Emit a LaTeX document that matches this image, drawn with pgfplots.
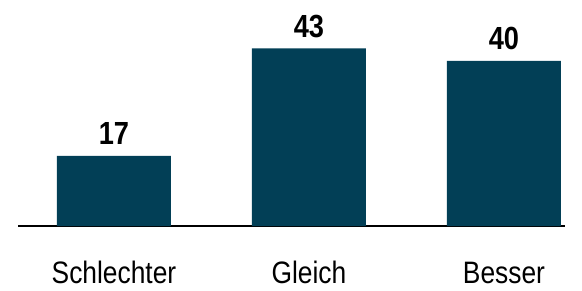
\documentclass[border=0pt]{standalone}
\usepackage{pgfplots}
\pgfplotsset{compat=1.18}
\usepackage{fontspec}
\setmainfont{Liberation Sans}
\newfontfamily\numfont[FakeStretch=0.85]{Liberation Sans Bold}
\newfontfamily\catfont[FakeStretch=0.85]{Liberation Sans}
\definecolor{barc}{RGB}{2,63,86}
\begin{document}
\begin{tikzpicture}
\useasboundingbox (0,0) rectangle (582bp,291bp);
\begin{axis}[
  at={(18bp,65bp)}, anchor=south west,
  scale only axis, width=547bp, height=206.5bp,
  xmin=-0.492, xmax=2.313, ymin=0, ymax=50,
  axis x line*=bottom, axis y line=none,
  axis line style={line width=1.5bp,-},
  xtick={0,1,2}, xticklabels={Schlechter,Gleich,Besser},
  major tick length=0pt,
  xticklabel style={font=\catfont\fontsize{31bp}{33bp}\selectfont, anchor=base, inner sep=0pt, yshift=-57bp},
  ybar, bar width=114bp,
  nodes near coords,
  /pgf/number format/assume math mode=true,
  every node near coord/.append style={font=\numfont\fontsize{32bp}{34bp}\selectfont, anchor=base, inner sep=0pt, yshift=11bp},
  clip=false,
]
\addplot[fill=barc, draw=none] coordinates {(0,17) (1,43) (2,40)};
\end{axis}
\end{tikzpicture}
\end{document}
